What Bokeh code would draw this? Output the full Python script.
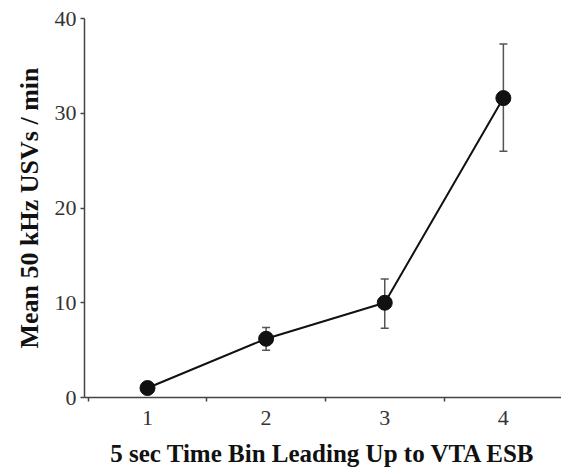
from bokeh.plotting import figure
from bokeh.models import ColumnDataSource, FixedTicker, Whisker, TeeHead, Range1d
from bokeh.embed import file_html
from bokeh.resources import INLINE

# Data
time_bins = [1, 2, 3, 4]
mean_usvs = [1.0, 6.2, 10.0, 31.6]
sem_upper = [1.0, 7.4, 12.5, 37.3]
sem_lower = [1.0, 5.0, 7.3, 26.0]
x_tick_labels = ["1", "2", "3", "4"]
y_ticks = [0, 10, 20, 30, 40]

source = ColumnDataSource(data=dict(x=time_bins, y=mean_usvs, upper=sem_upper, lower=sem_lower))

p = figure(width=561, height=476, output_backend="svg", toolbar_location=None,
           x_range=Range1d(0.469, 4.49), y_range=Range1d(0, 40),
           min_border_left=84, min_border_right=0, min_border_top=18, min_border_bottom=79)
p.outline_line_color = None
p.xgrid.visible = False
p.ygrid.visible = False
p.background_fill_color = "white"

serif = "Liberation Serif"

# x axis
p.xaxis.ticker = FixedTicker(ticks=time_bins, minor_ticks=[0.5, 1.5, 2.5, 3.5])
p.xaxis.major_label_overrides = {t: l for t, l in zip(time_bins, x_tick_labels)}
p.xaxis.major_tick_out = 0
p.xaxis.major_tick_in = 0
p.xaxis.minor_tick_out = 4
p.xaxis.minor_tick_in = 0
p.xaxis.minor_tick_line_color = "#444444"
p.xaxis.minor_tick_line_width = 1.5
p.xaxis.axis_label = "5 sec Time Bin Leading Up to VTA ESB"

# y axis
p.yaxis.ticker = FixedTicker(ticks=y_ticks, minor_ticks=[])
p.yaxis.major_tick_out = 4
p.yaxis.major_tick_in = 0
p.yaxis.major_tick_line_width = 1.5
p.yaxis.major_tick_line_color = "#444444"
p.yaxis.axis_label = "Mean 50 kHz USVs / min"

for ax in (p.xaxis, p.yaxis):
    ax.axis_line_color = "#444444"
    ax.axis_line_width = 1.5
    ax.major_label_text_font = serif
    ax.major_label_text_color = "#333333"
    ax.axis_label_text_font = serif
    ax.axis_label_text_font_style = "bold"
    ax.axis_label_text_color = "#111111"

p.xaxis.major_label_text_font_size = "22px"
p.yaxis.major_label_text_font_size = "22px"
p.xaxis.major_label_standoff = 9
p.yaxis.major_label_standoff = 4
p.xaxis.axis_label_text_font_size = "25px"
p.yaxis.axis_label_text_font_size = "26px"
p.xaxis.axis_label_standoff = 12
p.yaxis.axis_label_standoff = 8

# error bars
whisker = Whisker(source=source, base="x", upper="upper", lower="lower",
                  line_color="#555555", line_width=1.5,
                  upper_head=TeeHead(size=8, line_color="#555555", line_width=1.5),
                  lower_head=TeeHead(size=8, line_color="#555555", line_width=1.5))
p.add_layout(whisker)

p.line("x", "y", source=source, line_color="#111111", line_width=2)
p.scatter("x", "y", source=source, size=15, fill_color="#111111", line_color="#111111")

open("out.html", "w").write(file_html(p, INLINE))
